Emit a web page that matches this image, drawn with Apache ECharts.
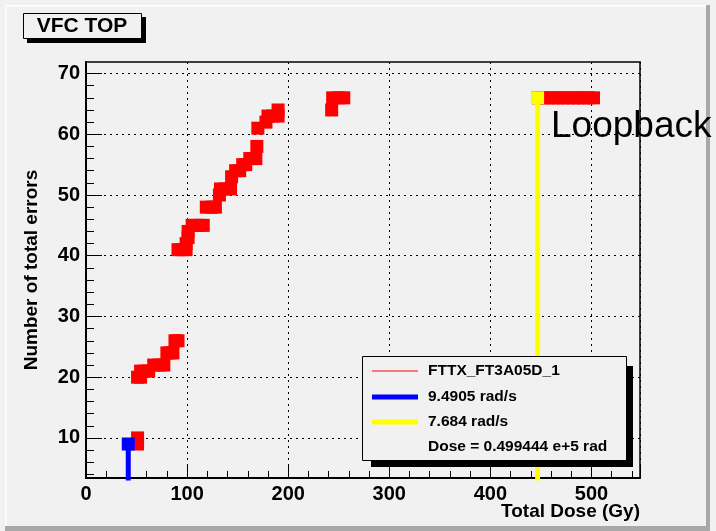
<!DOCTYPE html>
<html>
<head>
<meta charset="utf-8">
<style>
  html, body { margin: 0; padding: 0; background: #f1f1f1; }
  #main { width: 716px; height: 531px; }
</style>
<script src="https://cdn.jsdelivr.net/npm/echarts@6.0.0/dist/echarts.min.js"></script>
</head>
<body>
<div id="main"></div>
<script>
// red graph FTTX_FT3A05D_1 : total dose (Gy) vs number of errors
var redDose = [51, 51,
    51, 54, 54, 58, 62, 67, 72, 77, 80, 83, 86, 88, 91,
    91, 95, 99, 99, 101, 101, 105, 109, 113, 116, 119, 124, 128, 132, 133, 138, 143,
    144, 148, 152, 155, 158, 162, 165, 168, 169, 170, 178, 180, 185, 190, 190,
    243, 244, 250, 255,
    447, 452, 457, 462, 467, 472, 477, 482, 487, 492, 497, 502];
var redErrors = [9, 10,
    20, 20, 21, 21, 21, 22, 22, 22, 24, 24, 24, 26, 26,
    41, 41, 41, 42, 43, 44, 45, 45, 45, 45, 48, 48, 48, 50, 51, 51, 51,
    53, 54, 54, 55, 55, 56, 56, 56, 58, 61, 62, 63, 63, 63, 64,
    64, 66, 66, 66,
    66, 66, 66, 66, 66, 66, 66, 66, 66, 66, 66, 66];

// dose-rate markers
var blueDose = 41.8, blueErrors = 9;
var yellowDose = 446.7, yellowErrors = 66;

var yMajor = [10, 20, 30, 40, 50, 60, 70];
var yMinor = [4, 6, 8, 12, 14, 16, 18, 22, 24, 26, 28, 32, 34, 36, 38, 42, 44, 46, 48, 52, 54, 56, 58, 62, 64, 66, 68];

var legendNames = ['FTTX_FT3A05D_1', '9.4905 rad/s', '7.684 rad/s', 'Dose = 0.499444 e+5 rad'];
var titleText = 'VFC TOP';
var noteText = 'Loopback';
var xTitle = 'Total Dose (Gy)';
var yTitle = 'Number of total errors';

var FONT = '"Liberation Sans", Arial, Helvetica, sans-serif';
var bg = '#f1f1f1';

var redData = redDose.map(function (d, i) { return [d, redErrors[i]]; });

var myChart = echarts.init(document.getElementById('main'));

var legendColors = ['#ff0000', '#0000ff', '#ffff00', null];
var legendWidths = [1, 5, 5, 0];
var legendRows = [371, 397, 422, 447];
var legendItems = [];
legendNames.forEach(function (name, i) {
    if (legendColors[i]) {
        legendItems.push({
            type: 'line', z: 12, shape: { x1: 372, y1: legendRows[i], x2: 418, y2: legendRows[i] },
            style: { stroke: legendColors[i], lineWidth: legendWidths[i] }
        });
    }
    legendItems.push({
        type: 'text', z: 12, x: 428, y: legendRows[i],
        style: { text: name, font: 'bold 15.5px ' + FONT, fill: '#000', textVerticalAlign: 'middle' }
    });
});

var option = {
    animation: false,
    backgroundColor: bg,
    grid: {
        left: 86, right: 76, top: 62, bottom: 53,
        containLabel: false, outerBoundsMode: 'none',
        show: true, borderColor: '#000', borderWidth: 1.5, backgroundColor: bg
    },
    xAxis: {
        type: 'value', min: 0, max: 548, interval: 100,
        axisLine: { lineStyle: { color: '#000', width: 2 } },
        axisTick: { inside: true, length: 14, lineStyle: { color: '#000', width: 1 } },
        minorTick: { show: true, splitNumber: 5, length: 7, lineStyle: { color: '#000', width: 1 } },
        axisLabel: { margin: 6, showMaxLabel: false, fontFamily: FONT, fontWeight: 'bold', fontSize: 20, color: '#000' },
        splitLine: { show: true, lineStyle: { color: '#000', type: [2, 4], width: 1 } }
    },
    yAxis: [{
        type: 'value', min: 3.4, max: 71.9,
        name: yTitle, nameLocation: 'middle', nameGap: 45, nameRotate: 90,
        nameTextStyle: { fontFamily: FONT, fontWeight: 'bold', fontSize: 19, color: '#000' },
        axisLine: { show: true, lineStyle: { color: '#000', width: 2 } },
        axisTick: { inside: true, length: 16, customValues: yMajor, lineStyle: { color: '#000', width: 1 } },
        axisLabel: { margin: 6, customValues: yMajor, fontFamily: FONT, fontWeight: 'bold', fontSize: 20, color: '#000' },
        splitLine: { show: true, lineStyle: { color: '#000', type: [2, 4], width: 1 } }
    }, {
        type: 'value', min: 3.4, max: 71.9, position: 'left',
        axisLine: { show: false },
        axisTick: { show: true, inside: true, length: 8, customValues: yMinor, lineStyle: { color: '#000', width: 1 } },
        axisLabel: { show: false },
        splitLine: { show: false }
    }],
    series: [{
        type: 'scatter', data: redData, symbol: 'rect', symbolSize: 13,
        itemStyle: { color: '#ff0000', opacity: 1 }, z: 2
    }, {
        type: 'line', symbol: 'rect', symbolSize: 13, z: 3,
        data: [{ value: [blueDose, 0], symbol: 'none' }, [blueDose, blueErrors]],
        lineStyle: { color: '#0000ff', width: 5 }, itemStyle: { color: '#0000ff', borderWidth: 0 }
    }, {
        type: 'line', symbol: 'rect', symbolSize: 13, z: 3,
        data: [{ value: [yellowDose, 0], symbol: 'none' }, [yellowDose, yellowErrors]],
        lineStyle: { color: '#ffff00', width: 5 }, itemStyle: { color: '#ffff00', borderWidth: 0 }
    }],
    graphic: [
        // pad bevel
        { type: 'rect', shape: { x: 706, y: 5, width: 4, height: 526 }, style: { fill: '#a8a8a8' }, silent: true },
        { type: 'rect', shape: { x: 5, y: 526, width: 705, height: 5 }, style: { fill: '#a8a8a8' }, silent: true },
        { type: 'rect', shape: { x: 5, y: 5, width: 1.5, height: 521 }, style: { fill: '#ffffff' }, silent: true },
        { type: 'rect', shape: { x: 5, y: 5, width: 701, height: 1.5 }, style: { fill: '#ffffff' }, silent: true },
        // x axis title (right aligned under the axis end)
        { type: 'text', x: 640, y: 512, z: 12,
          style: { text: xTitle, font: 'bold 19px ' + FONT, fill: '#000', textAlign: 'right', textVerticalAlign: 'middle' } },
        // title box
        { type: 'rect', shape: { x: 27, y: 17, width: 119, height: 26 }, style: { fill: '#000' }, z: 10 },
        { type: 'rect', shape: { x: 23.5, y: 13.5, width: 118, height: 25 }, style: { fill: bg, stroke: '#000', lineWidth: 1 }, z: 11 },
        { type: 'text', x: 82, y: 26.5, z: 12,
          style: { text: titleText, font: 'bold 21px ' + FONT, fill: '#000', textAlign: 'center', textVerticalAlign: 'middle' } },
        // annotation
        { type: 'text', x: 551, y: 127, z: 12,
          style: { text: noteText, font: '37px ' + FONT, fill: '#000', textVerticalAlign: 'middle' } },
        // legend
        { type: 'rect', shape: { x: 371, y: 366, width: 262, height: 101 }, style: { fill: '#000' }, z: 10 },
        { type: 'rect', shape: { x: 362.5, y: 356.5, width: 264, height: 104 }, style: { fill: bg, stroke: '#000', lineWidth: 1 }, z: 11 },
        { type: 'group', children: legendItems }
    ]
};

myChart.setOption(option);
</script>
</body>
</html>
